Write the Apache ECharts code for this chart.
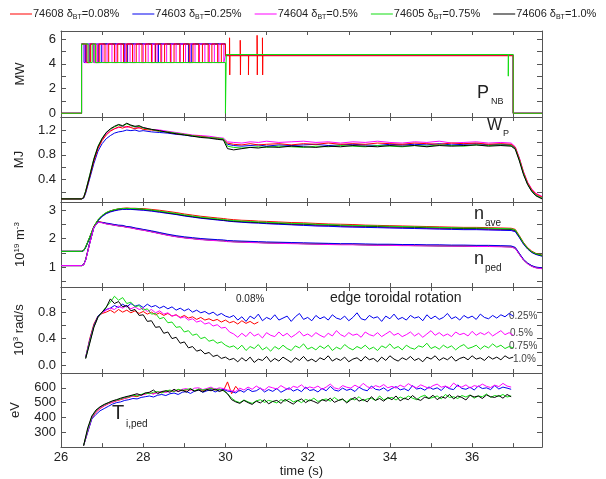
<!DOCTYPE html>
<html><head><meta charset="utf-8">
<script src="https://cdn.jsdelivr.net/npm/echarts@6/dist/echarts.min.js"></script>
<style>html,body{margin:0;padding:0;background:#fff}#c{width:606px;height:479px}</style>
</head><body><div id="c"></div>
<script>
// ---------- legend / series identity ----------
const seriesNames = ['74608 δBT=0.08%','74603 δBT=0.25%','74604 δBT=0.5%','74605 δBT=0.75%','74606 δBT=1.0%'];
const seriesColors = ['#ff0000','#0000ee','#ff00ff','#11dd11','#000000'];

// ---------- tick values ----------
const xLabelValues = [26,28,30,32,34,36];
const pnbTicks = [0,1,2,3,4,5,6], pnbLabels = [0,2,4,6];
const wpTicks = [0.2,0.4,0.6,0.8,1.0,1.2,1.4], wpLabels = [0.4,0.8,1.2];
const neTicks = [0.5,1,1.5,2,2.5,3], neLabels = [1,2,3];
const rotTicks = [0,0.2,0.4,0.6,0.8,1.0], rotLabels = [0,0.4,0.8];
const tiTicks = [300,400,500,600], tiLabels = [300,400,500,600];

// ---------- P_NB (MW): [time, value] step data ----------
const pnbRed = [[26,0],[26.5,5.6],[26.63,4.1],[26.72,5.6],[26.85,4.1],[26.93,5.6],[27.07,4.1],[27.16,5.6],[27.3,4.1],[27.38,5.6],[27.52,4.1],[27.6,5.6],[27.74,4.1],[27.83,5.6],[27.97,4.1],[28.06,5.6],[28.2,4.1],[28.29,5.6],[28.43,4.1],[28.52,5.6],[28.66,4.1],[28.75,5.6],[28.89,4.1],[28.98,5.6],[29.12,4.1],[29.21,5.6],[29.35,4.1],[29.44,5.6],[29.58,4.1],[29.67,5.6],[29.81,4.1],[29.9,5.6],[30.0,4.65],[30.1,6.1],[30.105,3.1],[30.11,4.65],[30.36,5.9],[30.365,3.1],[30.37,4.65],[30.56,3.1],[30.565,4.65],[30.77,6.3],[30.775,3.1],[30.78,4.65],[30.9,6.1],[30.905,3.1],[30.91,4.65],[37.0,0],[37.7,0]];
const pnbBlue = [[26,0],[26.5,5.6],[26.56,4.1],[26.61,5.6],[26.9,4.1],[26.98,5.6],[27.55,4.1],[27.62,5.6],[28.3,4.1],[28.37,5.6],[29.1,4.1],[29.17,5.6],[30.0,4.7],[37.0,0],[37.7,0]];
const pnbMagenta = [[26,0],[26.5,5.6],[26.58,4.1],[26.68,5.6],[26.8,4.1],[26.89,5.6],[27.02,4.1],[27.12,5.6],[27.24,4.1],[27.34,5.6],[27.46,4.1],[27.56,5.6],[27.68,4.1],[27.78,5.6],[27.9,4.1],[28.0,5.6],[28.12,4.1],[28.22,5.6],[28.34,4.1],[28.45,5.6],[28.57,4.1],[28.68,5.6],[28.8,4.1],[28.9,5.6],[29.03,4.1],[29.14,5.6],[29.26,4.1],[29.37,5.6],[29.5,4.1],[29.61,5.6],[29.73,4.1],[29.84,5.6],[29.96,4.1],[30.0,4.7],[37.0,0],[37.7,0]];
const pnbGreen = [[26,0],[26.5,5.6],[26.66,4.1],[26.76,5.6],[26.84,4.1],[30.0,0],[30.02,4.75],[36.88,3.0],[36.885,4.75],[37.0,0],[37.7,0]];
const pnbBlack = [[26,0],[26.5,5.6],[26.6,4.1],[26.7,5.6],[26.8,4.1],[26.9,5.6],[30.0,4.7],[37.0,0],[37.7,0]];

// ---------- shared sample times for W_P and density ----------
const tSmooth = [26.0,26.5,26.55,26.6,26.7,26.8,26.9,27.0,27.1,27.2,27.3,27.4,27.5,27.6,27.7,27.8,27.9,28.0,28.2,28.4,28.6,28.8,29.0,29.2,29.4,29.6,29.8,29.95,30.05,30.2,30.4,30.6,30.8,31.0,31.3,31.6,31.9,32.2,32.5,32.8,33.1,33.4,33.7,34.0,34.3,34.6,34.9,35.2,35.5,35.8,36.1,36.4,36.7,36.95,37.05,37.15,37.25,37.35,37.45,37.55,37.7];

// ---------- W_P (MJ) ----------
const wpRed = [0.09,0.09,0.11,0.2,0.45,0.7,0.9,1.03,1.12,1.18,1.22,1.25,1.23,1.26,1.24,1.22,1.24,1.21,1.2,1.18,1.17,1.14,1.13,1.11,1.1,1.08,1.07,1.05,0.99,0.97,0.96,0.98,0.96,0.97,0.98,0.96,0.98,0.97,0.99,0.97,0.98,0.97,0.99,0.98,0.97,0.99,0.98,0.97,0.99,0.98,0.99,0.97,0.98,0.97,0.92,0.74,0.52,0.35,0.24,0.17,0.12];
const wpBlue = [0.09,0.09,0.1,0.18,0.42,0.66,0.86,0.98,1.06,1.11,1.15,1.17,1.18,1.2,1.19,1.2,1.18,1.19,1.17,1.16,1.15,1.13,1.12,1.1,1.09,1.08,1.06,1.05,0.97,0.95,0.94,0.95,0.96,0.94,0.96,0.95,0.96,0.97,0.95,0.96,0.97,0.96,0.95,0.97,0.96,0.97,0.96,0.98,0.96,0.97,0.98,0.96,0.97,0.96,0.91,0.73,0.5,0.33,0.22,0.15,0.1];
const wpMagenta = [0.09,0.09,0.11,0.21,0.47,0.72,0.92,1.05,1.14,1.19,1.22,1.24,1.26,1.24,1.27,1.25,1.23,1.24,1.21,1.2,1.18,1.16,1.14,1.12,1.11,1.1,1.08,1.07,1.01,1.0,0.99,1.01,1.0,1.02,1.0,1.01,1.02,1.0,1.01,0.99,1.01,1.0,1.02,1.0,0.99,1.01,1.0,1.02,0.99,1.0,1.01,0.99,1.0,0.99,0.93,0.75,0.53,0.36,0.25,0.18,0.13];
const wpGreen = [0.09,0.09,0.11,0.22,0.48,0.74,0.94,1.07,1.16,1.21,1.25,1.28,1.26,1.3,1.27,1.25,1.26,1.23,1.21,1.18,1.17,1.15,1.13,1.11,1.09,1.08,1.07,1.06,0.94,0.92,0.91,0.92,0.93,0.92,0.94,0.93,0.92,0.94,0.93,0.95,0.94,0.93,0.95,0.94,0.93,0.95,0.94,0.96,0.95,0.94,0.96,0.95,0.96,0.95,0.9,0.72,0.5,0.33,0.22,0.15,0.1];
const wpBlack = [0.09,0.09,0.11,0.21,0.46,0.73,0.93,1.06,1.16,1.22,1.26,1.29,1.27,1.31,1.28,1.26,1.27,1.24,1.21,1.19,1.16,1.14,1.12,1.1,1.08,1.07,1.05,1.04,0.9,0.88,0.9,0.92,0.91,0.93,0.92,0.94,0.93,0.92,0.94,0.93,0.95,0.94,0.93,0.95,0.94,0.95,0.93,0.95,0.94,0.95,0.96,0.94,0.95,0.94,0.89,0.7,0.48,0.32,0.21,0.14,0.09];

// ---------- density n_ave and n_ped (10^19 m^-3) ----------
const naveRed = [1.55,1.55,1.58,1.7,2.05,2.42,2.65,2.8,2.9,2.97,3.01,3.04,3.06,3.07,3.06,3.06,3.05,3.05,3.02,2.99,2.95,2.91,2.86,2.82,2.78,2.75,2.72,2.7,2.68,2.66,2.64,2.63,2.61,2.6,2.58,2.56,2.55,2.53,2.51,2.5,2.49,2.47,2.46,2.45,2.44,2.43,2.42,2.41,2.4,2.39,2.39,2.38,2.37,2.36,2.32,2.1,1.86,1.68,1.56,1.48,1.42];
const naveBlue = [1.55,1.55,1.57,1.68,2.02,2.38,2.62,2.77,2.87,2.93,2.97,3.0,3.02,3.02,3.02,3.01,3.0,2.99,2.96,2.92,2.88,2.84,2.79,2.75,2.71,2.68,2.65,2.63,2.61,2.59,2.57,2.55,2.54,2.52,2.5,2.48,2.46,2.44,2.43,2.41,2.4,2.39,2.38,2.37,2.36,2.35,2.34,2.33,2.32,2.31,2.31,2.3,2.29,2.28,2.24,2.03,1.8,1.63,1.51,1.44,1.38];
const naveMagenta = [1.55,1.55,1.57,1.69,2.03,2.4,2.63,2.78,2.88,2.94,2.98,3.01,3.03,3.03,3.03,3.02,3.01,3.0,2.97,2.93,2.89,2.85,2.8,2.76,2.72,2.69,2.66,2.64,2.62,2.6,2.58,2.56,2.55,2.53,2.51,2.49,2.47,2.45,2.44,2.42,2.41,2.4,2.39,2.38,2.37,2.36,2.35,2.34,2.33,2.32,2.32,2.31,2.3,2.29,2.25,2.04,1.81,1.64,1.52,1.45,1.39];
const naveGreen = [1.55,1.55,1.58,1.71,2.06,2.43,2.66,2.81,2.91,2.97,3.01,3.04,3.05,3.06,3.05,3.05,3.04,3.03,3.0,2.96,2.92,2.88,2.83,2.79,2.75,2.72,2.69,2.67,2.65,2.63,2.61,2.6,2.58,2.57,2.55,2.53,2.52,2.5,2.49,2.47,2.46,2.45,2.44,2.43,2.42,2.41,2.4,2.39,2.38,2.37,2.37,2.36,2.35,2.34,2.3,2.08,1.84,1.66,1.54,1.47,1.41];
const naveBlack = [1.55,1.55,1.58,1.7,2.05,2.42,2.65,2.8,2.9,2.96,3.0,3.03,3.05,3.05,3.05,3.04,3.03,3.02,2.99,2.95,2.9,2.86,2.81,2.77,2.73,2.7,2.67,2.65,2.63,2.61,2.59,2.58,2.56,2.55,2.53,2.51,2.5,2.48,2.47,2.45,2.44,2.43,2.42,2.41,2.4,2.39,2.38,2.37,2.36,2.35,2.35,2.34,2.33,2.32,2.28,2.06,1.83,1.65,1.53,1.46,1.4];
const npedRed = [1.05,1.05,1.08,1.26,1.86,2.41,2.59,2.57,2.53,2.5,2.48,2.45,2.44,2.41,2.39,2.36,2.33,2.31,2.25,2.19,2.13,2.08,2.04,2.01,1.98,1.96,1.94,1.93,1.91,1.9,1.89,1.88,1.87,1.86,1.85,1.84,1.83,1.82,1.81,1.8,1.8,1.79,1.78,1.78,1.77,1.77,1.76,1.76,1.75,1.75,1.74,1.74,1.73,1.72,1.67,1.46,1.26,1.13,1.04,0.99,0.96];
const npedBlue = [1.05,1.05,1.08,1.25,1.84,2.38,2.57,2.56,2.54,2.52,2.49,2.47,2.46,2.42,2.41,2.37,2.35,2.32,2.27,2.21,2.15,2.1,2.06,2.03,2.0,1.98,1.96,1.95,1.93,1.92,1.91,1.9,1.89,1.88,1.87,1.86,1.85,1.84,1.83,1.82,1.82,1.81,1.8,1.8,1.79,1.79,1.78,1.78,1.77,1.77,1.76,1.76,1.75,1.74,1.69,1.48,1.27,1.14,1.05,1.0,0.97];
const npedMagenta = [1.05,1.05,1.07,1.24,1.83,2.39,2.57,2.55,2.51,2.49,2.46,2.44,2.42,2.39,2.37,2.34,2.31,2.29,2.23,2.17,2.11,2.06,2.02,1.99,1.96,1.94,1.92,1.91,1.89,1.88,1.87,1.86,1.85,1.84,1.83,1.82,1.81,1.8,1.79,1.78,1.78,1.77,1.76,1.76,1.75,1.75,1.74,1.74,1.73,1.73,1.72,1.72,1.71,1.7,1.65,1.44,1.24,1.11,1.02,0.97,0.94];
const npedGreen = [1.05,1.05,1.08,1.26,1.85,2.4,2.58,2.56,2.52,2.49,2.47,2.44,2.43,2.4,2.38,2.35,2.32,2.3,2.24,2.18,2.12,2.07,2.03,2.0,1.97,1.95,1.93,1.92,1.9,1.89,1.88,1.87,1.86,1.85,1.84,1.83,1.82,1.81,1.8,1.79,1.79,1.78,1.77,1.77,1.76,1.76,1.75,1.75,1.74,1.74,1.73,1.73,1.72,1.71,1.66,1.45,1.25,1.12,1.03,0.98,0.95];
const npedBlack = [1.05,1.05,1.08,1.25,1.85,2.4,2.58,2.56,2.52,2.5,2.47,2.45,2.43,2.4,2.38,2.35,2.32,2.3,2.24,2.18,2.12,2.07,2.03,2.0,1.97,1.95,1.93,1.92,1.9,1.89,1.88,1.87,1.86,1.85,1.84,1.83,1.82,1.81,1.8,1.79,1.79,1.78,1.77,1.77,1.76,1.75,1.75,1.74,1.74,1.73,1.73,1.72,1.72,1.71,1.66,1.45,1.25,1.12,1.03,0.98,0.95];

// ---------- edge toroidal rotation (10^3 rad/s), sampled every 0.1 s from 26.6 s ----------
const rotStart = 26.6, rotStep = 0.1;
const rotRed = [0.12,0.4,0.62,0.74,0.78,0.8,0.83,0.79,0.84,0.8,0.83,0.79,0.82,0.78,0.81,0.77,0.8,0.76,0.79,0.75,0.78,0.74,0.76,0.72,0.75,0.71,0.73,0.69,0.72,0.68,0.7,0.67,0.69,0.65,0.68,0.64,0.66,0.62,0.67,0.63,0.66,0.62,0.65];
const rotBlue = [0.12,0.38,0.6,0.74,0.8,0.84,0.86,0.9,0.87,0.92,0.88,0.93,0.89,0.91,0.87,0.92,0.88,0.9,0.86,0.89,0.85,0.88,0.83,0.86,0.82,0.85,0.8,0.83,0.79,0.81,0.77,0.8,0.75,0.78,0.74,0.72,
0.75,0.68,0.73,0.66,0.74,0.7,0.77,0.67,0.72,0.69,0.76,0.68,0.71,0.74,0.66,0.73,0.78,0.69,0.72,0.67,0.75,0.7,0.73,0.68,0.76,0.71,0.69,0.74,0.67,0.72,0.79,0.7,0.68,0.75,0.71,0.73,0.66,0.74,0.7,0.77,0.69,0.72,0.68,0.75,0.71,0.73,0.67,0.76,0.7,0.74,0.69,0.72,0.78,0.7,0.73,0.68,0.75,0.71,0.74,0.69,0.77,0.72,0.7,0.75,0.71,0.76,0.73,0.78,0.74];
const rotMagenta = [0.1,0.36,0.58,0.72,0.79,0.83,0.86,0.84,0.89,0.86,0.9,0.85,0.88,0.84,0.86,0.81,0.84,0.79,0.82,0.77,0.79,0.74,0.76,0.71,0.73,0.68,0.7,0.65,0.67,0.62,0.64,0.59,0.61,0.56,0.57,0.5,
0.47,0.42,0.48,0.43,0.5,0.44,0.47,0.41,0.49,0.45,0.43,0.5,0.44,0.48,0.42,0.46,0.51,0.44,0.47,0.43,0.49,0.45,0.42,0.48,0.44,0.52,0.46,0.43,0.49,0.45,0.47,0.42,0.5,0.46,0.44,0.49,0.43,0.47,0.51,0.45,0.48,0.43,0.46,0.5,0.44,0.48,0.42,0.47,0.52,0.45,0.49,0.44,0.47,0.43,0.5,0.46,0.48,0.44,0.51,0.45,0.49,0.46,0.5,0.44,0.48,0.52,0.46,0.49,0.45];
const rotGreen = [0.1,0.35,0.58,0.72,0.8,0.88,0.95,1.04,0.98,1.02,0.93,0.95,0.88,0.9,0.83,0.85,0.77,0.78,0.7,0.72,0.64,0.65,0.57,0.58,0.5,0.52,0.45,0.47,0.4,0.42,0.36,0.38,0.33,0.35,0.3,0.27,
0.29,0.24,0.3,0.22,0.28,0.25,0.31,0.23,0.27,0.21,0.28,0.24,0.3,0.25,0.22,0.29,0.26,0.32,0.24,0.27,0.23,0.29,0.25,0.3,0.22,0.27,0.24,0.31,0.26,0.23,0.28,0.25,0.3,0.24,0.27,0.22,0.29,0.26,0.32,0.25,0.28,0.23,0.3,0.26,0.24,0.29,0.27,0.33,0.25,0.28,0.24,0.3,0.26,0.29,0.23,0.28,0.31,0.25,0.27,0.3,0.24,0.29,0.26,0.32,0.27,0.3,0.25,0.28,0.26];
const rotBlack = [0.1,0.33,0.57,0.73,0.8,0.87,1.0,0.93,0.96,0.88,0.9,0.82,0.84,0.75,0.76,0.66,0.67,0.57,0.58,0.48,0.5,0.4,0.42,0.33,0.35,0.26,0.28,0.21,0.23,0.17,0.19,0.13,0.15,0.1,0.12,0.08,
0.1,0.05,0.11,0.06,0.12,0.04,0.09,0.07,0.13,0.05,0.1,0.06,0.12,0.08,0.04,0.11,0.07,0.13,0.06,0.09,0.05,0.11,0.08,0.14,0.06,0.1,0.07,0.12,0.05,0.09,0.11,0.06,0.13,0.08,0.1,0.05,0.12,0.07,0.14,0.09,0.06,0.11,0.08,0.13,0.07,0.1,0.05,0.12,0.09,0.14,0.07,0.11,0.08,0.13,0.06,0.1,0.12,0.08,0.14,0.09,0.11,0.07,0.13,0.09,0.12,0.08,0.14,0.1,0.12];

// ---------- pedestal ion temperature T_i,ped (eV), sampled every 0.1 s from 26.55 s ----------
const tiStart = 26.55, tiStep = 0.1;
const tiRed = [210,305,395,435,460,478,492,502,512,520,528,535,545,540,552,558,565,560,572,568,578,582,575,588,580,585,592,578,590,582,588,595,585,590,580,640,560,610,575];
const tiBlue = [210,300,390,420,445,460,475,490,500,505,515,520,528,525,535,540,545,538,550,555,548,560,565,555,570,575,562,578,585,570,580,588,572,585,590,578,575,
565,585,570,592,575,580,598,572,588,576,595,570,585,600,578,590,574,605,582,588,572,596,580,610,585,578,598,583,592,575,604,588,580,612,590,585,600,578,596,608,586,594,580,615,592,598,584,606,590,600,582,610,594,588,620,596,590,605,585,612,595,600,588,615,592,605,598,590];
const tiMagenta = [210,310,400,440,465,480,495,505,515,525,530,540,545,552,548,560,565,558,570,575,568,580,585,575,590,595,582,598,600,588,596,605,590,600,595,585,580,
575,598,585,605,590,612,595,585,608,600,592,615,598,588,610,602,620,594,606,598,612,590,605,625,600,592,615,604,598,618,602,630,608,596,615,605,622,600,610,598,618,605,628,610,600,620,608,596,615,625,604,612,600,632,610,605,620,598,615,608,625,610,602,618,608,630,612,605];
const tiGreen = [210,320,405,445,470,485,498,510,518,525,535,540,550,545,555,565,560,570,575,565,578,585,575,590,582,588,595,580,592,585,590,598,585,592,580,560,530,
510,500,518,505,495,512,520,502,515,508,498,520,510,525,505,515,500,522,512,530,508,518,525,510,535,515,522,505,528,518,540,512,525,530,515,545,520,528,535,518,538,525,545,530,520,540,550,528,535,545,525,555,535,540,528,548,538,552,530,545,540,558,535,548,542,555,538,545];
const tiBlack = [210,330,410,450,472,488,500,512,520,530,538,545,552,560,550,565,570,585,560,575,580,570,590,575,585,570,592,578,585,572,588,580,592,575,585,560,520,
505,495,515,500,488,510,498,520,492,508,515,495,522,505,490,512,525,500,518,508,495,520,510,530,502,515,525,498,520,535,510,522,505,540,515,528,510,535,520,545,512,530,520,548,525,515,538,528,550,520,540,530,555,525,545,535,518,550,538,545,528,552,540,535,548,530,555,540];

// ---------- helpers ----------
const zipT = (ts, vals) => vals.map((v, i) => [ts[i], v]);
const stepT = (t0, dt, vals) => vals.map((v, i) => [Math.round((t0 + i * dt) * 1000) / 1000, v]);

const X_MIN = 26, X_MAX = 37.7;
const frameColor = '#555';
const textColor = '#222';
const FONT = 'Liberation Sans, Arial, sans-serif';

const gridDefs = [
  {top: 31, height: 86},
  {top: 117, height: 85},
  {top: 202, height: 85},
  {top: 287, height: 86},
  {top: 373, height: 75}
];
const grid = gridDefs.map(g => ({left: 61, width: 481, top: g.top, height: g.height, containLabel: false}));

const xAxis = [];
gridDefs.forEach((g, i) => {
  const base = {
    type: 'value', gridIndex: i, min: X_MIN, max: X_MAX, interval: 1,
    axisLine: {show: true, onZero: false, lineStyle: {color: frameColor, width: 1}},
    axisTick: {show: true, inside: true, length: 4, lineStyle: {color: frameColor}},
    splitLine: {show: false}
  };
  xAxis.push(Object.assign({}, base, {
    position: 'bottom',
    axisLabel: {show: i === 4, margin: 4, color: textColor, fontSize: 13, fontFamily: FONT,
      customValues: xLabelValues, formatter: v => String(v)},
    name: i === 4 ? 'time (s)' : '', nameLocation: 'middle', nameGap: 17,
    nameTextStyle: {color: textColor, fontSize: 13, fontFamily: FONT}
  }));
  xAxis.push(Object.assign({}, base, {position: 'top', axisLabel: {show: false}}));
});

const yDefs = [
  {min: -0.3, max: 6.65, ticks: pnbTicks, labels: pnbLabels, fmt: v => String(v), name: 'MW'},
  {min: 0.04, max: 1.41, ticks: wpTicks, labels: wpLabels, fmt: v => v.toFixed(1), name: 'MJ'},
  {min: 0.3, max: 3.28, ticks: neTicks, labels: neLabels, fmt: v => String(v), name: '10{sup|19} m{sup|-3}'},
  {min: -0.12, max: 1.18, ticks: rotTicks, labels: rotLabels, fmt: v => v.toFixed(1), name: '10{sup|3} rad/s'},
  {min: 200, max: 700, ticks: tiTicks, labels: tiLabels, fmt: v => String(v), name: 'eV'}
];
const yAxis = [];
yDefs.forEach((d, i) => {
  const base = {
    type: 'value', gridIndex: i, min: d.min, max: d.max,
    axisLine: {show: true, onZero: false, lineStyle: {color: frameColor, width: 1}},
    axisTick: {show: true, inside: true, length: 5, customValues: d.ticks, lineStyle: {color: frameColor}},
    splitLine: {show: false}
  };
  yAxis.push(Object.assign({}, base, {
    position: 'left',
    axisLabel: {show: true, margin: 5, color: textColor, fontSize: 13, fontFamily: FONT,
      customValues: d.labels, formatter: d.fmt},
    name: d.name, nameLocation: 'middle', nameRotate: 90, nameGap: 33,
    nameTextStyle: {color: textColor, fontSize: 13, fontFamily: FONT, lineHeight: 15,
      rich: {sup: {fontSize: 8, lineHeight: 8, verticalAlign: 'top', fontFamily: FONT, color: textColor}}}
  }));
  yAxis.push(Object.assign({}, base, {position: 'right', axisLabel: {show: false}}));
});

const series = [];
function addLine(panel, colorIdx, data, extra) {
  series.push(Object.assign({
    type: 'line', name: seriesNames[colorIdx], xAxisIndex: panel * 2, yAxisIndex: panel * 2,
    data: data, showSymbol: false, symbol: 'none', silent: true, animation: false,
    lineStyle: {color: seriesColors[colorIdx], width: 1}, itemStyle: {color: seriesColors[colorIdx]},
    emphasis: {disabled: true}, clip: true
  }, extra || {}));
}
// Panel 0: P_NB
addLine(0, 4, pnbBlack, {step: 'end'});
addLine(0, 1, pnbBlue, {step: 'end'});
addLine(0, 2, pnbMagenta, {step: 'end'});
addLine(0, 0, pnbRed, {step: 'end'});
addLine(0, 3, pnbGreen, {step: 'end'});
// Panel 1: W_P
addLine(1, 1, zipT(tSmooth, wpBlue));
addLine(1, 2, zipT(tSmooth, wpMagenta));
addLine(1, 0, zipT(tSmooth, wpRed));
addLine(1, 3, zipT(tSmooth, wpGreen));
addLine(1, 4, zipT(tSmooth, wpBlack));
// Panel 2: density
addLine(2, 0, zipT(tSmooth, naveRed));
addLine(2, 2, zipT(tSmooth, naveMagenta));
addLine(2, 1, zipT(tSmooth, naveBlue));
addLine(2, 4, zipT(tSmooth, naveBlack));
addLine(2, 3, zipT(tSmooth, naveGreen));
addLine(2, 0, zipT(tSmooth, npedRed));
addLine(2, 4, zipT(tSmooth, npedBlack));
addLine(2, 3, zipT(tSmooth, npedGreen));
addLine(2, 1, zipT(tSmooth, npedBlue));
addLine(2, 2, zipT(tSmooth, npedMagenta));
// Panel 3: rotation
addLine(3, 0, stepT(rotStart, rotStep, rotRed));
addLine(3, 1, stepT(rotStart, rotStep, rotBlue));
addLine(3, 2, stepT(rotStart, rotStep, rotMagenta));
addLine(3, 3, stepT(rotStart, rotStep, rotGreen));
addLine(3, 4, stepT(rotStart, rotStep, rotBlack));
// Panel 4: Ti,ped
addLine(4, 0, stepT(tiStart, tiStep, tiRed));
addLine(4, 1, stepT(tiStart, tiStep, tiBlue));
addLine(4, 2, stepT(tiStart, tiStep, tiMagenta));
addLine(4, 3, stepT(tiStart, tiStep, tiGreen));
addLine(4, 4, stepT(tiStart, tiStep, tiBlack));

function txt(left, top, text, size, color) {
  return {type: 'text', left: left, top: top, silent: true,
    style: {text: text, fontSize: size, fontFamily: FONT, fill: color || textColor}};
}
const graphic = [
  txt(477, 84, 'P', 18), txt(491, 97, 'NB', 9),
  txt(487, 118, 'W', 16), txt(503, 129, 'P', 9),
  txt(474, 205, 'n', 18), txt(485, 218, 'ave', 10),
  txt(474, 250, 'n', 18), txt(485, 263, 'ped', 10),
  txt(236, 294, '0.08%', 10),
  txt(330, 291, 'edge toroidal rotation', 14),
  txt(509, 311, '0.25%', 10, '#444'), txt(510, 328, '0.5%', 10, '#444'),
  txt(509, 341, '0.75%', 10, '#444'), txt(513, 354, '1.0%', 10, '#444'),
  txt(112, 403, 'T', 20), txt(126, 419, 'i,ped', 10)
];

const chart = echarts.init(document.getElementById('c'), null, {renderer: 'canvas'});
chart.setOption({
  animation: false,
  backgroundColor: '#fff',
  legend: {
    data: seriesNames, left: 5, top: 2, itemWidth: 22, itemHeight: 10, itemGap: 13,
    icon: 'path://M0,5 L22,5 L22,6 L0,6 Z',
    selectedMode: false,
    formatter: n => { const p = n.split('BT'); return p[0] + '{s|BT}' + p[1]; },
    textStyle: {fontSize: 11, color: textColor, fontFamily: FONT, lineHeight: 14, padding: [0, 0, 0, -4],
      rich: {s: {fontSize: 7, lineHeight: 8, verticalAlign: 'bottom', fontFamily: FONT, color: textColor}}}
  },
  grid: grid, xAxis: xAxis, yAxis: yAxis, series: series, graphic: graphic
});
</script>
</body></html>
